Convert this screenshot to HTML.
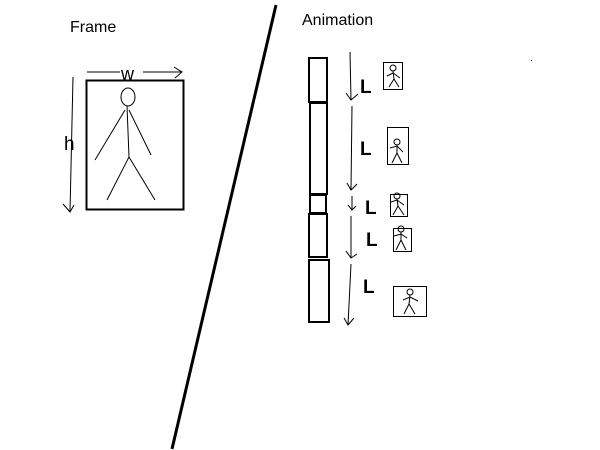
<!DOCTYPE html>
<html><head><style>body{margin:0;background:#fff}svg{display:block}text{font-family:"Liberation Sans",sans-serif;fill:#000}</style></head><body>
<svg width="600" height="450" viewBox="0 0 600 450" xmlns="http://www.w3.org/2000/svg">
<g stroke="#000" fill="none">
<line x1="276" y1="5" x2="172" y2="449" stroke-width="3"/>
<rect x="86.5" y="80.5" width="97" height="129" stroke-width="2"/>
<ellipse cx="128" cy="97" rx="7" ry="9"/>
<line x1="127" y1="106" x2="129" y2="157"/>
<line x1="125" y1="110" x2="95" y2="160"/>
<line x1="129" y1="110" x2="151" y2="155"/>
<line x1="129" y1="157" x2="107" y2="200"/>
<line x1="129" y1="157" x2="155" y2="200"/>
<line x1="87" y1="72" x2="120" y2="72"/><line x1="143" y1="72" x2="182" y2="72"/>
<polyline points="174,67 182,72 175,78"/>
<line x1="73" y1="77" x2="70" y2="212"/>
<polyline points="63,204 70,212 74,205"/>
<g stroke-width="2">
<rect x="309" y="58" width="18" height="44"/>
<rect x="310" y="103" width="17" height="91"/>
<rect x="310" y="195" width="16" height="18"/>
<rect x="309" y="214" width="18" height="43"/>
<rect x="309" y="260" width="20" height="62"/>
</g>
<line x1="350" y1="52" x2="351" y2="100"/><polyline points="346,93 351,100 358,94"/>
<line x1="352" y1="106" x2="351" y2="190"/><polyline points="347,183 351,190 357,184"/>
<line x1="352" y1="196" x2="352" y2="210"/><polyline points="348,205 352,210 356,206"/>
<line x1="351" y1="216" x2="351" y2="258"/><polyline points="346,251 351,258 357,254"/>
<line x1="351" y1="264" x2="348" y2="325"/><polyline points="344,318 348,325 354,318"/>
<g stroke-width="1">
<rect x="383.5" y="62.5" width="19" height="27"/>
<rect x="387.5" y="127.5" width="21" height="37"/>
<rect x="390.5" y="194.5" width="17" height="22"/>
<rect x="393.5" y="228.5" width="18" height="23"/>
<rect x="393.5" y="286.5" width="33" height="30"/>
</g>
<g stroke-width="1">
<circle cx="393" cy="68" r="3"/><path d="M393 71 L394 79 L389 87 M394 79 L399 87 M387 76 L393 73 L400 78"/>
<circle cx="397" cy="142" r="3"/><path d="M397 145 L397 153 L392 163 M397 153 L402 163 M390 148 L397 146 L403 152"/>
<circle cx="397" cy="196" r="3"/><path d="M397 199 L398 206 L393 215 M398 206 L404 215 M391 202 L397 200 L404 205"/>
<circle cx="401" cy="229" r="3"/><path d="M401 232 L401 240 L396 250 M401 240 L406 250 M394 236 L401 234 L407 238"/>
<circle cx="410" cy="292" r="3"/><path d="M410 295 L409 304 L404 314 M409 304 L415 314 M403 300 L410 297 L418 301"/>
</g>
</g>
<rect x="531" y="60" width="1" height="1" fill="#000"/>
<text x="70" y="32" font-size="16">Frame</text>
<text x="302" y="25" font-size="16">Animation</text>
<text x="121" y="80" font-size="18">w</text>
<text x="64" y="150" font-size="19">h</text>
<g font-size="19" font-weight="bold">
<text x="360" y="93">L</text><text x="360" y="155">L</text><text x="365" y="214">L</text><text x="366" y="246">L</text><text x="363" y="293">L</text>
</g>
</svg>
</body></html>
